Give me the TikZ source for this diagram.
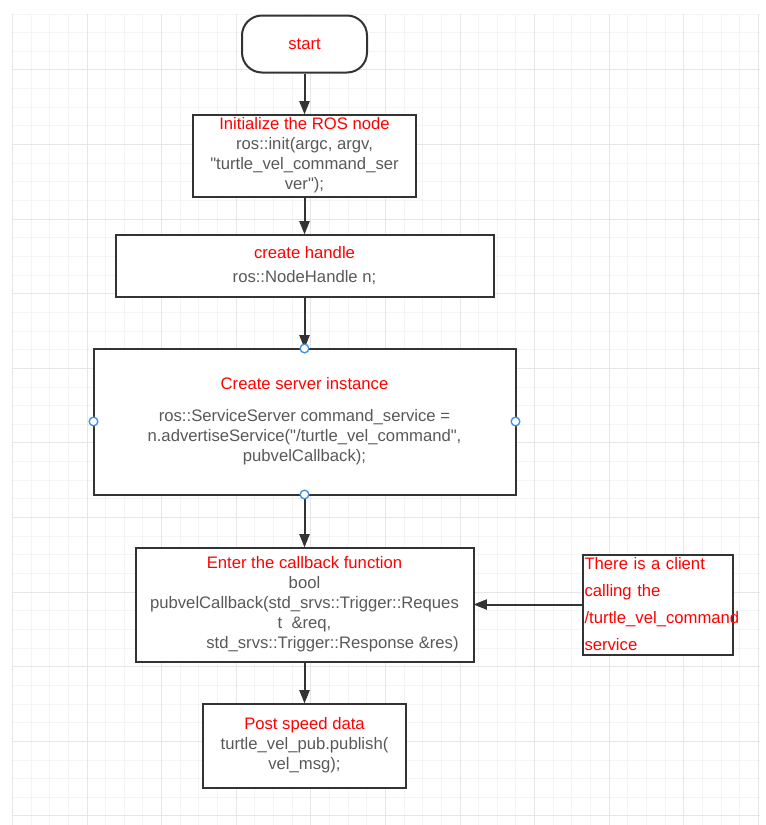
\documentclass[tikz,border=0pt]{standalone}
\usepackage{fontspec}
\setmainfont{Liberation Sans}
\usetikzlibrary{positioning, arrows.meta}
\definecolor{linegray}{HTML}{333333}
\definecolor{codegray}{HTML}{595959}
\definecolor{titlered}{HTML}{FF0000}
\definecolor{gridminor}{HTML}{F4F4F4}
\definecolor{gridmajor}{HTML}{E6E6E6}
\definecolor{handleblue}{HTML}{3D8FE6}
\newcommand{\steptitle}[1]{\textcolor{titlered}{#1}}
\tikzstyle{startstop} = [rectangle, rounded corners=15pt, minimum width=93.75pt, minimum height=42.75pt, text centered, draw=linegray, line width=1.5pt, fill=white, text=titlered, font=\fontsize{12.5}{15}\selectfont]
\tikzstyle{process} = [rectangle, inner sep=0pt, outer sep=0pt, align=center, draw=linegray, line width=1.5pt, fill=white, text=codegray, font=\fontsize{12.5}{15}\selectfont]
\tikzstyle{note} = [rectangle, inner xsep=1.5pt, inner ysep=0pt, outer sep=0pt, text width=109.5pt, minimum height=75pt, align=left, draw=linegray, line width=1.5pt, fill=white, text=titlered, font=\fontsize{12.5}{20.25}\selectfont]
\tikzstyle{arrow} = [line width=1.5pt, draw=linegray, -{Triangle[width=7.5pt,length=10pt]}]
\tikzstyle{handle} = [circle, draw=handleblue, fill=white, line width=1pt, minimum size=6.5pt, inner sep=0pt]
\tikzstyle{gridline} = [line width=0.75pt, draw=gridminor]

\begin{document}
\begin{tikzpicture}[x=0.75pt, y=-0.75pt]

        % background grid
        \useasboundingbox [fill=white] (0,0) rectangle (765,825);
        \foreach \i in {0,...,40}
          \draw [gridline] (12.4+18.65*\i,14) -- (12.4+18.65*\i,825);
        \foreach \j in {0,...,43}
          \draw [gridline] (12.4,14+18.65*\j) -- (760,14+18.65*\j);
        \foreach \i in {0,4,...,40}
          \draw [gridline, draw=gridmajor] (12.4+18.65*\i,14) -- (12.4+18.65*\i,825);
        \foreach \j in {3,7,...,43}
          \draw [gridline, draw=gridmajor] (12.4,14+18.65*\j) -- (760,14+18.65*\j);

        \node (start) [startstop] at (304.5,44) {start};
        \node (init) [process, minimum width=167.25pt, minimum height=61.5pt, below=30.75pt of start] {\steptitle{Initialize the ROS node}\\ ros::init(argc, argv,\\ \textquotedbl turtle\_vel\_command\_ser\\ ver\textquotedbl);};
        \node (handle) [process, minimum width=283.5pt, minimum height=46.5pt, below=28.5pt of init] {\steptitle{create handle}\\[3pt] ros::NodeHandle n;};
        \node (server) [process, minimum width=316.5pt, minimum height=109.5pt, below=39pt of handle] {\steptitle{Create server instance}\\[9pt] ros::ServiceServer command\_service =\\ n.advertiseService(\textquotedbl/turtle\_vel\_command\textquotedbl,\\ pubvelCallback);};
        \node (callback) [process, minimum width=253.5pt, minimum height=85.5pt, below=39.75pt of server] {\steptitle{Enter the callback function}\\ bool\\ pubvelCallback(std\_srvs::Trigger::Reques\\ t\ \ \&req,\\ \hspace*{42pt}std\_srvs::Trigger::Response \&res)};
        \node (client) [note, right=81.75pt of callback] {There is a client\\ calling the\\ /turtle\_vel\_command\\ service};
        \node (publish) [process, minimum width=152.25pt, minimum height=63pt, below=31.5pt of callback] {\steptitle{Post speed data}\\ turtle\_vel\_pub.publish(\\ vel\_msg);};

        \draw [arrow] (start) -- (init);
        \draw [arrow] (init) -- (handle);
        \draw [arrow] (handle) -- (server);
        \draw [arrow] (server) -- (callback);
        \draw [arrow] (client.west) -- (client.west -| callback.east);
        \draw [arrow] (callback) -- (publish);

        % selection handles
        \node (hn) [handle] at (server.north) {};
        \node (hs) [handle] at (server.south) {};
        \node (hw) [handle] at (server.west) {};
        \node (he) [handle] at (server.east) {};

      \end{tikzpicture}
\end{document}
